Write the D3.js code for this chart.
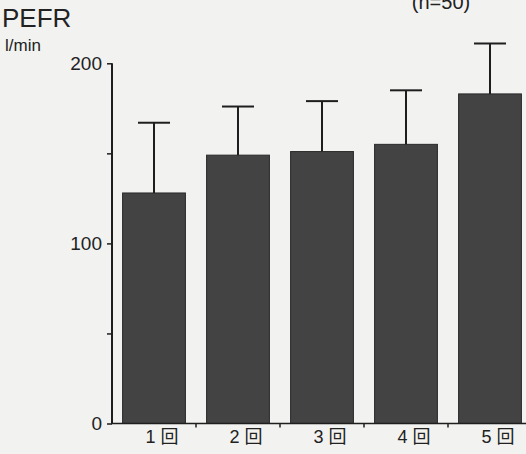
<!DOCTYPE html>
<html><head><meta charset="utf-8">
<script src="https://cdn.jsdelivr.net/npm/d3@7/dist/d3.min.js"></script>
<style>
html,body{margin:0;padding:0;background:#f1f1f0;}
svg{display:block;}
text{font-family:"Liberation Sans",Arial,"Noto Sans CJK JP",sans-serif;fill:#222;}
</style></head>
<body>
<svg id="c" width="526" height="454"></svg>
<script>
const categories = ["1 回", "2 回", "3 回", "4 回", "5 回"];
const means = [128, 149, 151, 155, 183];
const sds = [39, 27, 28, 30, 28];
const yTickValues = [0, 50, 100, 150, 200];
const yTickLabels = ["0", "", "100", "", "200"];

const svg = d3.select("#c");
svg.append("rect").attr("width",526).attr("height",454).attr("fill","#f2f2f1");

const x = d3.scaleBand().domain(categories).range([112, 532]).paddingInner(0.24).paddingOuter(0.12);
const y = d3.scaleLinear().domain([0, 200]).range([423.5, 63.3]);

// bars
svg.selectAll("rect.bar").data(categories).enter().append("rect")
  .attr("class","bar")
  .attr("x", d => x(d) + 0.5)
  .attr("width", x.bandwidth() - 1)
  .attr("y", (d,i) => y(means[i]))
  .attr("height", (d,i) => y(0) - y(means[i]))
  .attr("fill", "#434343")
  .attr("stroke", "#2a2a2a")
  .attr("stroke-width", 1);

// error bars
const eb = svg.append("g").attr("stroke","#1e1e1e").attr("stroke-width",2);
categories.forEach((c,i) => {
  const cx = x(c) + x.bandwidth()/2;
  eb.append("line").attr("x1",cx).attr("x2",cx).attr("y1",y(means[i])).attr("y2",y(means[i]+sds[i]));
  eb.append("line").attr("x1",cx-16).attr("x2",cx+16).attr("y1",y(means[i]+sds[i])).attr("y2",y(means[i]+sds[i]));
});

// y axis
const yAxis = d3.axisLeft(y).tickValues(yTickValues).tickSize(5).tickPadding(5)
  .tickFormat((d,i) => yTickLabels[i]);
const gy = svg.append("g").attr("transform","translate(112,0)").call(yAxis);
gy.select(".domain").remove();
gy.append("line").attr("x1",0).attr("x2",0).attr("y1",y(200)).attr("y2",y(0)).attr("stroke","#1e1e1e").attr("stroke-width",2);
gy.selectAll(".tick line").attr("stroke","#1e1e1e").attr("stroke-width",1.5);
gy.selectAll(".tick text").attr("font-size",19).attr("fill","#222").attr("dy","0.3em")
  .attr("font-family",'"Liberation Sans",Arial,sans-serif');

// x axis
const gx = svg.append("g").attr("transform","translate(0,423.5)");
gx.append("line").attr("x1",111).attr("x2",526).attr("y1",0).attr("y2",0).attr("stroke","#1e1e1e").attr("stroke-width",1.5);
categories.slice(1).forEach(c => {
  const bx = x(c) - x.step()*x.paddingInner()/2;
  gx.append("line").attr("x1",bx).attr("x2",bx).attr("y1",0).attr("y2",4).attr("stroke","#1e1e1e").attr("stroke-width",1.5);
});
gx.selectAll("text.cat").data(categories).enter().append("text")
  .attr("class","cat")
  .attr("x", d => x(d) + x.bandwidth()/2 + 8)
  .attr("y", 19.5)
  .attr("text-anchor","middle")
  .attr("font-size",18)
  .text(d => d);

// titles
svg.append("text").attr("x",2).attr("y",27).attr("font-size",26).text("PEFR");
svg.append("text").attr("x",5).attr("y",51).attr("font-size",17).text("l/min");
svg.append("text").attr("x",441).attr("y",9).attr("text-anchor","middle").attr("font-size",20).text("(n=50)");
</script>
</body></html>
